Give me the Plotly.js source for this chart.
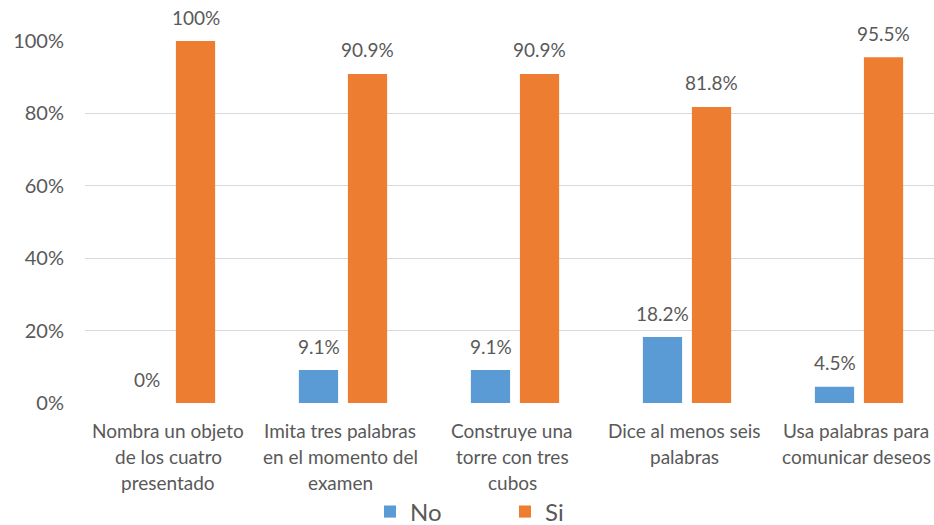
<!DOCTYPE html>
<html>
<head>
<meta charset="utf-8">
<script src="https://cdn.plot.ly/plotly-3.0.1.min.js"></script>
<style>html,body{margin:0;padding:0;background:#fff;}#chart{width:934px;height:525px;}</style>
</head>
<body>
<div id="chart"></div>
<script>
const categories = ["c1","c2","c3","c4","c5"];
const categoryLines = [
  ["Nombra un objeto","de los cuatro","presentado"],
  ["Imita tres palabras","en el momento del","examen"],
  ["Construye una","torre con tres","cubos"],
  ["Dice al menos seis","palabras"],
  ["Usa palabras para","comunicar deseos"]
];
const noValues = [0, 9.1, 9.1, 18.2, 4.5];
const siValues = [100, 90.9, 90.9, 81.8, 95.5];
const noLabels = ["0%","9.1%","9.1%","18.2%","4.5%"];
const siLabels = ["100%","90.9%","90.9%","81.8%","95.5%"];
const yTickVals = [0,20,40,60,80,100];

const FONT = "Lato, 'Open Sans', sans-serif";
const TXT = "#595959";
const BLUE = "#5B9BD5", ORANGE = "#ED7D31";

const xIdx = categories.map((c,i)=>i);

const traces = [
  {type:"bar", name:"No", x:xIdx, y:noValues, marker:{color:BLUE}, hoverinfo:"none"},
  {type:"bar", name:"Si", x:xIdx, y:siValues, marker:{color:ORANGE}, hoverinfo:"none"}
];

const annotations = [];
categoryLines.forEach((lines,i)=>{
  lines.forEach((t,j)=>{
    annotations.push({xref:"x", yref:"paper", x:xIdx[i], y:0, yanchor:"middle", xanchor:"center",
      xshift:-3, yshift:-(27 + j*26), text:t, showarrow:false, font:{family:FONT, size:19, color:TXT}});
  });
});
noValues.forEach((v,i)=>{
  annotations.push({xref:"x", yref:"y", x:xIdx[i], y:v, xshift:-24.5, yshift:24, yanchor:"middle",
    text:noLabels[i], showarrow:false, font:{family:FONT, size:19, color:TXT}});
});
siValues.forEach((v,i)=>{
  annotations.push({xref:"x", yref:"y", x:xIdx[i], y:v, xshift:24.5, yshift:24, yanchor:"middle",
    text:siLabels[i], showarrow:false, font:{family:FONT, size:19, color:TXT}});
});

const layout = {
  width:934, height:525,
  margin:{l:85, r:0, t:41, b:122},
  paper_bgcolor:"#fff", plot_bgcolor:"#fff",
  font:{family:FONT, color:TXT},
  barmode:"group", bargap:0.43, bargroupgap:0.2,
  showlegend:true,
  legend:{orientation:"h", xref:"container", yref:"container", x:370/934, xanchor:"left",
    y:13/525, yanchor:"middle", font:{family:FONT, size:24, color:TXT},
    entrywidth:90, entrywidthmode:"pixels", traceorder:"normal"},
  xaxis:{range:[-0.5, 4.436], showgrid:false, zeroline:false, showline:false,
    showticklabels:false, ticks:"", fixedrange:true},
  yaxis:{range:[0,100], tickvals:yTickVals, ticktext:yTickVals.map(v=>v+"%"),
    showgrid:true, gridcolor:"#D9D9D9", gridwidth:1.3, zeroline:false, showline:false,
    ticks:"", ticklabelstandoff:20, tickfont:{family:FONT, size:20, color:TXT}, fixedrange:true},
  annotations:annotations
};

Plotly.newPlot("chart", traces, layout, {displayModeBar:false, staticPlot:true});
</script>
</body>
</html>
